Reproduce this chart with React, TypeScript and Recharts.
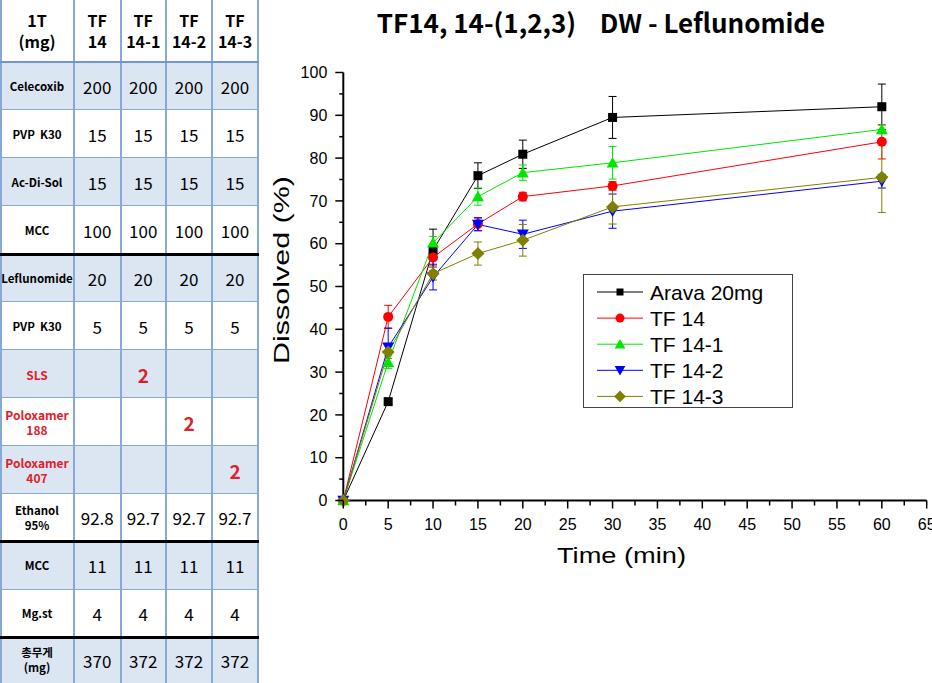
import React from 'react';
import { LineChart, Line, XAxis, YAxis, ErrorBar, Legend, Customized } from 'recharts';

// ---------- table data ----------
const tableHeaders = ['1T\n(mg)', 'TF\n14', 'TF\n14-1', 'TF\n14-2', 'TF\n14-3'];
const tableRowLabels = ['Celecoxib', 'PVP  K30', 'Ac-Di-Sol', 'MCC', 'Leflunomide', 'PVP  K30', 'SLS', 'Poloxamer\n188', 'Poloxamer\n407', 'Ethanol\n95%', 'MCC', 'Mg.st', '총무게\n(mg)'];
const tableRedRows = [6, 7, 8];
const tableValues = [
  ['200', '200', '200', '200'],
  ['15', '15', '15', '15'],
  ['15', '15', '15', '15'],
  ['100', '100', '100', '100'],
  ['20', '20', '20', '20'],
  ['5', '5', '5', '5'],
  ['', '2', '', ''],
  ['', '', '2', ''],
  ['', '', '', '2'],
  ['92.8', '92.7', '92.7', '92.7'],
  ['11', '11', '11', '11'],
  ['4', '4', '4', '4'],
  ['370', '372', '372', '372'],
];
const thickAfterRows = [3, 9, 11];

// ---------- chart data ----------
const times = [0, 5, 10, 15, 20, 30, 60];
const aravaMean = [0, 23.1, 58.5, 75.9, 80.9, 89.5, 92.0];
const aravaErr = [0, 0.6, 4.9, 3.0, 3.3, 4.9, 5.3];
const tf14Mean = [0, 42.9, 56.8, 64.6, 71.0, 73.5, 83.8];
const tf14Err = [0, 2.7, 2.0, 1.5, 1.0, 1.0, 4.0];
const tf141Mean = [0, 32.3, 60.2, 71.0, 76.6, 78.9, 86.7];
const tf141Err = [0, 1.5, 1.5, 2.0, 1.8, 3.8, 1.0];
const tf142Mean = [0, 35.8, 52.2, 64.5, 62.2, 67.6, 74.6];
const tf142Err = [0, 4.5, 3.0, 1.5, 3.3, 4.0, 1.6];
const tf143Mean = [0, 34.7, 53.0, 57.7, 60.8, 68.6, 75.5];
const tf143Err = [0, 1.5, 1.5, 2.7, 3.7, 4.0, 8.2];

const yTicks = Array.from({ length: 21 }, (_, i) => i * 5);
const xTicks = Array.from({ length: 27 }, (_, i) => i * 2.5);

const series = [
  { key: 'arava', name: 'Arava 20mg', color: '#000000', shape: 'square' },
  { key: 'tf14', name: 'TF 14', color: '#ff0000', shape: 'circle' },
  { key: 'tf141', name: 'TF 14-1', color: '#00e600', shape: 'up' },
  { key: 'tf142', name: 'TF 14-2', color: '#0000ff', shape: 'down' },
  { key: 'tf143', name: 'TF 14-3', color: '#808000', shape: 'diamond' },
];

const data = times.map((t, i) => ({
  t,
  arava: aravaMean[i], aravaErr: aravaErr[i],
  tf14: tf14Mean[i], tf14Err: tf14Err[i],
  tf141: tf141Mean[i], tf141Err: tf141Err[i],
  tf142: tf142Mean[i], tf142Err: tf142Err[i],
  tf143: tf143Mean[i], tf143Err: tf143Err[i],
}));

const ARIAL = '"Liberation Sans", Arial, sans-serif';
const KFONT = '"Noto Sans CJK KR", "Noto Sans", sans-serif';

function Marker({ cx, cy, shape, color, s }: any) {
  if (cx == null || cy == null) return null;
  if (shape === 'square') return <rect x={cx - s / 2} y={cy - s / 2} width={s} height={s} fill={color} />;
  if (shape === 'circle') return <circle cx={cx} cy={cy} r={s / 2} fill={color} />;
  if (shape === 'up') {
    const h = s * 0.95;
    return <polygon points={`${cx - s * 0.6},${cy + h / 2} ${cx + s * 0.6},${cy + h / 2} ${cx},${cy - h / 2 - 1}`} fill={color} />;
  }
  if (shape === 'down') {
    const h = s * 0.95;
    return <polygon points={`${cx - s * 0.6},${cy - h / 2} ${cx + s * 0.6},${cy - h / 2} ${cx},${cy + h / 2 + 1}`} fill={color} />;
  }
  return <polygon points={`${cx - s * 0.65},${cy} ${cx},${cy - s * 0.65} ${cx + s * 0.65},${cy} ${cx},${cy + s * 0.65}`} fill={color} />;
}

const YTick = (props: any) => {
  const { x, y, payload } = props;
  const major = payload.value % 10 === 0;
  return (
    <g>
      <line x1={x} x2={x - (major ? 8 : 4)} y1={y} y2={y} stroke="#000" strokeWidth={1.5} />
      {major && (
        <text x={x - 16} y={y} dy="0.36em" textAnchor="end" fontSize={16} fontFamily={ARIAL} fill="#000">
          {payload.value}
        </text>
      )}
    </g>
  );
};

const XTick = (props: any) => {
  const { x, y, payload } = props;
  const major = payload.value % 5 === 0;
  return (
    <g>
      <line x1={x} x2={x} y1={y} y2={y + (major ? 8 : 5)} stroke="#000" strokeWidth={1.5} />
      {major && (
        <text x={x} y={y + 18} dy="0.72em" textAnchor="middle" fontSize={16} fontFamily={ARIAL} fill="#000">
          {payload.value}
        </text>
      )}
    </g>
  );
};

const LegendBox = () => (
  <svg width={210} height={134} style={{ display: 'block' }}>
    <rect x={0.5} y={0.5} width={209} height={133} fill="#fff" stroke="#444" strokeWidth={1} />
    {series.map((s, i) => {
      const cy = 18 + i * 26.1;
      return (
        <g key={s.key}>
          <line x1={14} x2={60} y1={cy} y2={cy} stroke={s.color} strokeWidth={1} />
          <Marker cx={37} cy={cy} shape={s.shape} color={s.color} s={s.shape === 'square' ? 7 : 9} />
          <text x={67} y={cy} dy="0.36em" fontSize={21} fontFamily={ARIAL} fill="#000">{s.name}</text>
        </g>
      );
    })}
  </svg>
);

const Texts = () => (
  <g>
    <text x={341} y={33} textAnchor="middle" fontSize={26} fontWeight={700} fontFamily={KFONT} fill="#000" style={{ whiteSpace: 'pre' }}>
      {'TF14, 14-(1,2,3)    DW - Leflunomide'}
    </text>
    <text x={361.5} y={563} textAnchor="middle" fontSize={22} fontFamily={ARIAL} fill="#000"
      textLength={129} lengthAdjust="spacingAndGlyphs">Time (min)</text>
    <text x={29} y={270} textAnchor="middle" fontSize={22} fontFamily={ARIAL} fill="#000"
      textLength={188} lengthAdjust="spacingAndGlyphs" transform="rotate(-90 29 270)">Dissolved (%)</text>
  </g>
);

const colX = [0, 74, 120.5, 166, 212, 258];
const rowY = [0, 62, 110, 158, 206, 254, 302, 350, 398, 446, 494, 541, 590, 637, 683];
const BLUE_FILL = '#dce6f3';
const LINE_BLUE = '#86a9d8';

function Table() {
  const cells: any[] = [];
  for (let r = 0; r < rowY.length - 1; r++) {
    const isHeader = r === 0;
    const dr = r - 1;
    const bg = isHeader ? '#ffffff' : dr % 2 === 0 ? BLUE_FILL : '#ffffff';
    for (let c = 0; c < colX.length - 1; c++) {
      let content: any = '';
      let style: any = {};
      if (isHeader) {
        content = tableHeaders[c];
        style = { fontWeight: 700, fontSize: 16, lineHeight: '21px' };
      } else if (c === 0) {
        content = tableRowLabels[dr];
        const red = tableRedRows.includes(dr);
        style = { fontWeight: 700, fontSize: red ? 12 : 11.5, lineHeight: '15px', color: red ? '#e0202a' : '#000' };
      } else {
        content = tableValues[dr][c - 1];
        const red = content === '2';
        style = red ? { fontWeight: 700, fontSize: 19, color: '#e0202a' } : { fontSize: 17 };
      }
      cells.push(
        <div key={`${r}-${c}`} style={{
          position: 'absolute', left: colX[c], top: rowY[r], width: colX[c + 1] - colX[c], height: rowY[r + 1] - rowY[r],
          background: bg, display: 'flex', alignItems: 'center', justifyContent: 'center', textAlign: 'center',
          whiteSpace: 'pre', fontFamily: KFONT, color: '#000', ...style,
        }}>{content}</div>
      );
    }
  }
  const lines: any[] = [];
  colX.forEach((x, i) => {
    lines.push(<div key={`v${i}`} style={{ position: 'absolute', left: x - (i === 0 ? 0 : 1), top: 0, width: 2, height: 683, background: LINE_BLUE }} />);
  });
  rowY.slice(1, -1).forEach((y, i) => {
    const thick = thickAfterRows.includes(i - 1);
    const header = i === 0;
    lines.push(<div key={`h${i}`} style={{
      position: 'absolute', left: 0, top: y - (thick ? 1.5 : 1), width: 259, height: thick ? 3 : header ? 2 : 1,
      background: thick ? '#000' : header ? '#6f96cf' : LINE_BLUE,
    }} />);
  });
  return <div style={{ position: 'absolute', left: 0, top: 0, width: 260, height: 683 }}>{cells}{lines}</div>;
}

export default function App() {
  return (
    <div style={{ position: 'absolute', left: 0, top: 0, width: 932, height: 683, background: '#fff', overflow: 'hidden' }}>
      <Table />
      <div style={{ position: 'absolute', left: 260, top: 0 }}>
        <LineChart width={672} height={683} data={data} margin={{ top: 72.5, right: 5.3, left: 33.3, bottom: 142.5 }}>
          <XAxis dataKey="t" type="number" domain={[0, 65]} ticks={xTicks} interval={0} height={40}
            axisLine={{ stroke: '#000', strokeWidth: 2 }} tickLine={false} tickSize={0} tickMargin={0} tick={<XTick />} />
          <YAxis type="number" domain={[0, 100]} ticks={yTicks} interval={0} width={50}
            axisLine={{ stroke: '#000', strokeWidth: 2 }} tickLine={false} tickSize={0} tickMargin={0} tick={<YTick />} />
          {series.map((s) => (
            <Line key={s.key} dataKey={s.key} name={s.name} type="linear" stroke={s.color} strokeWidth={1}
              isAnimationActive={false}
              dot={(p: any) => <Marker key={`${s.key}-${p.index}`} cx={p.cx} cy={p.cy} shape={s.shape} color={s.color} s={s.shape === 'square' ? 9 : 10} />}
              activeDot={false}>
              <ErrorBar dataKey={`${s.key}Err`} direction="y" width={4} stroke={s.color} strokeWidth={1} />
            </Line>
          ))}
          <Legend layout="vertical" align="center" verticalAlign="middle" content={() => <LegendBox />}
            wrapperStyle={{ position: 'absolute', left: 323, top: 274, width: 210, height: 134 }} />
          <Customized component={Texts} />
        </LineChart>
      </div>
    </div>
  );
}
